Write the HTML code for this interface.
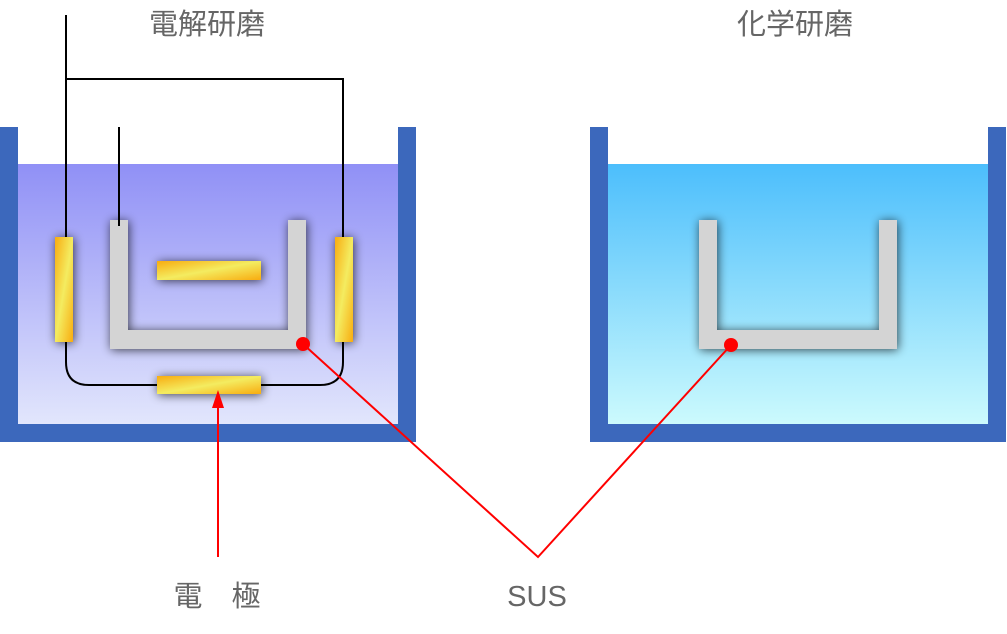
<!DOCTYPE html>
<html><head><meta charset="utf-8"><style>
body{margin:0;width:1007px;height:629px;background:#fff;overflow:hidden}
text{font-family:"Liberation Sans","Noto Sans CJK JP",sans-serif;fill:#666;font-size:29px}
</style></head><body>
<svg width="1007" height="629" viewBox="0 0 1007 629">
<defs>
<linearGradient id="l1" x1="0" y1="0" x2="0" y2="1"><stop offset="0" stop-color="#9090f6"/><stop offset="1" stop-color="#e2e6fc"/></linearGradient>
<linearGradient id="l2" x1="0" y1="0" x2="0" y2="1"><stop offset="0" stop-color="#4cbefc"/><stop offset="1" stop-color="#ccfafd"/></linearGradient>
<linearGradient id="g" x1="0" y1="0" x2="1" y2="1"><stop offset="0" stop-color="#f8ac10"/><stop offset="0.5" stop-color="#f4ec60"/><stop offset="1" stop-color="#f8ac10"/></linearGradient>
<filter id="s" x="-50%" y="-50%" width="200%" height="200%"><feGaussianBlur in="SourceAlpha" stdDeviation="5"/><feOffset dx="1" dy="1"/><feComponentTransfer><feFuncA type="linear" slope="0.7"/></feComponentTransfer><feMerge><feMergeNode/><feMergeNode in="SourceGraphic"/></feMerge></filter>
</defs>
<rect x="18" y="164" width="380" height="260" fill="url(#l1)"/>
<path d="M0 127h18v297h380v-297h18v315h-416z" fill="#3c68bc"/>
<rect x="608" y="164" width="380" height="260" fill="url(#l2)"/>
<path d="M590 127h18v297h380v-297h18v315h-416z" fill="#3c68bc"/>
<g filter="url(#s)">
<path d="M110 220h18v110h160v-110h18v129h-196z" fill="#d4d4d4"/>
<rect x="55" y="237" width="18" height="105" fill="url(#g)"/>
<rect x="335" y="237" width="18" height="105" fill="url(#g)"/>
<rect x="157" y="261" width="104" height="19" fill="url(#g)"/>
<rect x="157" y="376" width="104" height="18" fill="url(#g)"/>
<path d="M699 220h18v110h162v-110h18v129h-198z" fill="#d4d4d4"/>
</g>
<g fill="none" stroke="#000" stroke-width="2">
<path d="M66 15V237M66 79H343V237M119 127V226"/>
<path d="M66 342V362q0 23 23 23h68M261 385h59q23 0 23-23V342"/>
</g>
<g stroke="#f00" stroke-width="2" fill="none">
<path d="M303 344L538 557L731 345"/>
<path d="M218 557V400"/>
</g>
<path d="M218 390l-6 18h12z" fill="#f00"/>
<circle cx="303" cy="344" r="7" fill="#f00"/>
<circle cx="731" cy="345" r="7" fill="#f00"/>
<text x="207" y="34" text-anchor="middle">電解研磨</text>
<text x="795" y="34" text-anchor="middle">化学研磨</text>
<text x="217" y="606" text-anchor="middle" xml:space="preserve">電　極</text>
<text x="537" y="606" text-anchor="middle">SUS</text>
</svg>
</body></html>
